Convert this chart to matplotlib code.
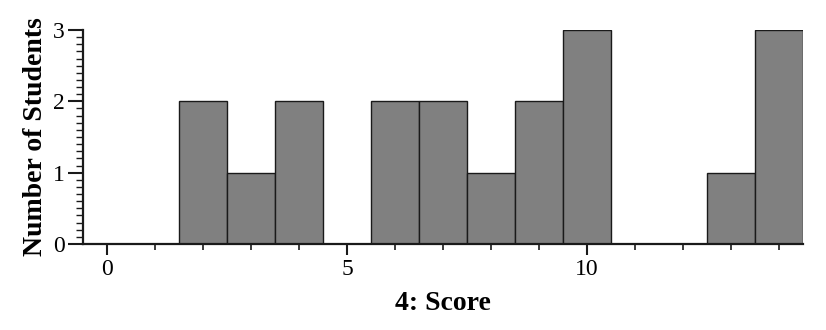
import matplotlib
matplotlib.use("Agg")
import matplotlib.pyplot as plt
from matplotlib.ticker import MultipleLocator

# score (bin centre) and number of students in each bin
scores = [0, 1, 2, 3, 4, 5, 6, 7, 8, 9, 10, 11, 12, 13, 14]
counts = [0, 0, 2, 1, 2, 0, 2, 2, 1, 2, 3, 0, 0, 1, 3]

plt.rcParams['font.family'] = ['Liberation Serif', 'DejaVu Serif']

fig = plt.figure(figsize=(8.26, 3.30), dpi=100)
ax = fig.add_axes([0.1005, 0.2606, 0.8717, 0.6485])

ax.bar(scores, counts, width=1.0, color='#808080', edgecolor='#1a1a1a', linewidth=1.0)

ax.set_xlim(-0.5, 14.5)
ax.set_ylim(0, 3)

ax.spines['top'].set_visible(False)
ax.spines['right'].set_visible(False)
ax.spines['left'].set_linewidth(1.6)
ax.spines['bottom'].set_linewidth(1.6)
ax.spines['left'].set_color('#1a1a1a')
ax.spines['bottom'].set_color('#1a1a1a')

ax.xaxis.set_major_locator(MultipleLocator(5))
ax.xaxis.set_minor_locator(MultipleLocator(1))
ax.yaxis.set_major_locator(MultipleLocator(1))
ax.yaxis.set_minor_locator(MultipleLocator(0.1))

ax.tick_params(axis='x', which='major', length=8, width=1.5, labelsize=17, pad=3, color='#1a1a1a')
ax.tick_params(axis='x', which='minor', length=4, width=1.2, color='#1a1a1a')
ax.tick_params(axis='y', which='major', length=11, width=1.5, labelsize=17, pad=2, color='#1a1a1a')
ax.tick_params(axis='y', which='minor', length=5, width=1.0, color='#1a1a1a')

ax.set_xlabel('4: Score', fontsize=20, fontweight='bold', labelpad=8)
ax.set_ylabel('Number of Students', fontsize=20, fontweight='bold', labelpad=4)

fig.savefig('out.png', dpi=100)
